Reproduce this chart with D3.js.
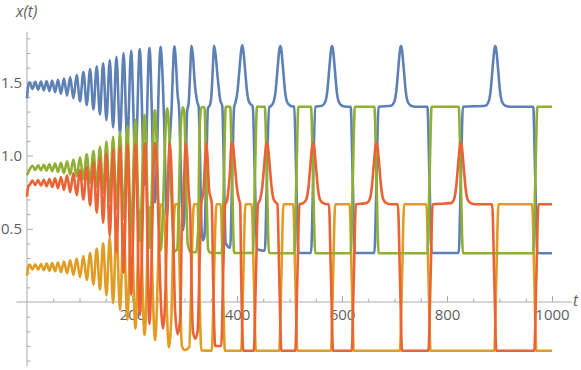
<!DOCTYPE html>
<html>
<head>
<meta charset="utf-8">
<script src="https://cdn.jsdelivr.net/npm/d3@7"></script>
<style>
  body { margin: 0; background: #fff; }
  svg { display: block; }
  text { font-family: "Open Sans", "DejaVu Sans", sans-serif; }
</style>
</head>
<body>
<svg width="581" height="370"></svg>
<script>
// turning points [t, x], one list per component
const blue = [
  [0,1.39],[2.5,1.48],[5,1.5],[10.4,1.455],[15.8,1.503],[21.2,1.45],[26.6,1.505],[32,1.445],[37.3,1.508],[42.7,1.44],
  [48,1.512],[53.5,1.432],[59,1.517],[64.7,1.422],[70.4,1.525],[76.3,1.408],[82.2,1.535],[88.4,1.39],[94.6,1.55],[101,1.37],
  [107.4,1.57],[113.8,1.345],[120.2,1.59],[126.5,1.315],[132.8,1.61],[138.9,1.28],[145,1.63],[151.3,1.242],[157.6,1.652],[164,1.192],
  [170.4,1.674],[177.2,1.14],[183.9,1.70],[191.1,1.083],[198.3,1.715],[206.5,0.95],[214.8,1.727],[224,0.8],[233.2,1.736],[243.5,0.68],
  [254.5,1.743],[257.5,1.6],[261,1.25],[266.5,0.58],[272,1.1],[275.5,1.33],[278,1.58],[280.6,1.745],
  [283.6,1.64],[286.6,1.43],[290,1.3],[293,0.9],[297.5,0.49],[302,0.85],[305,1.3],[308,1.36],[310.6,1.55],[313.4,1.75],
  [316.4,1.67],[319.4,1.5],[324,1.37],[327,1.33],[329.5,1.0],[332.5,0.5],[335,0.42],[338,0.45],[341.5,0.9],[344.5,1.32],
  [349,1.35],[352,1.45],[354,1.6],[356.5,1.75],
  [359.5,1.68],[362.5,1.56],[368,1.38],[372,1.335],[375,0.9],[378.5,0.4],[387,0.37],[390.8,0.85],[394.5,1.33],[397,1.36],
  [401,1.44],[404,1.56],[406,1.645],[408,1.72],[410,1.752],
  [412,1.72],[414,1.645],[416,1.56],[419,1.44],[423,1.365],[430,1.335],[434,0.85],[438,0.36],[453,0.35],[457,0.85],
  [461,1.333],[463.5,1.335],[469.5,1.365],[473.5,1.44],[476.5,1.56],[478.5,1.645],[480.5,1.72],[482.5,1.747],
  [484.5,1.72],[486.5,1.645],[488.5,1.56],[491.5,1.44],[495.5,1.365],[501.5,1.34],[509,1.333],[513,0.83],[517,0.335],[541,0.335],
  [545,0.83],[549,1.333],[562,1.34],[568,1.365],[572,1.44],[575,1.56],[577,1.645],[579,1.72],[581,1.747],
  [583,1.72],[585,1.645],[587,1.56],[590,1.44],[594,1.365],[600,1.34],[609,1.333],[616.5,1.333],[620.5,0.83],[624.5,0.335],
  [661.7,0.335],[665.7,0.83],[669.7,1.333],[693.4,1.34],[699.4,1.365],[703.4,1.44],[706.4,1.56],[708.4,1.645],[710.4,1.72],[712.4,1.747],
  [714.4,1.72],[716.4,1.645],[718.4,1.56],[721.4,1.44],[725.4,1.365],[731.4,1.34],[740.4,1.333],[762.7,1.333],[766.7,0.83],[770.7,0.335],
  [822.3,0.335],[826.3,0.83],[830.3,1.333],[873,1.34],[879,1.365],[883,1.44],[886,1.56],[888,1.645],[890,1.72],[892,1.747],
  [894,1.72],[896,1.645],[898,1.56],[901,1.44],[905,1.365],[911,1.34],[920,1.333],[964.2,1.333],[968.2,0.83],[972.2,0.335],
  [1000,0.333]
];

const orange = [
  [0,0.18],[2.5,0.24],[5,0.255],[10.4,0.222],[15.8,0.257],[21.2,0.221],[26.6,0.259],[32,0.218],[37.3,0.262],[42.7,0.214],
  [48,0.266],[53.5,0.21],[59,0.27],[64.7,0.204],[70.4,0.277],[76.3,0.196],[82.2,0.285],[88.4,0.185],[94.6,0.297],[101,0.17],
  [107.4,0.313],[113.8,0.15],[120.2,0.335],[126.5,0.12],[132.8,0.365],[138.9,0.085],[145,0.4],[151.3,0.045],[157.6,0.44],[164,-0.009],
  [170.4,0.485],[177.2,-0.055],[183.9,0.53],[191.1,-0.12],[198.3,0.58],[206.5,-0.18],[214.8,0.625],[224,-0.225],[233.2,0.65],[244,-0.26],
  [254.5,0.66],[258,0.667],[262,0.55],[266,0],[270,-0.31],[275,-0.1],[279,0.5],[282.6,0.667],[288,0.667],[291,0.17],
  [295,-0.3],[300,-0.328],[309,-0.31],[312,0],[315.4,0.5],[318,0.667],[325,0.667],[328,0.17],[332,-0.33],[352,-0.333],
  [355,0],[358.5,0.5],[361,0.667],[369,0.667],[373,0.17],[377,-0.333],[408,-0.333],[412,0.17],[416,0.667],[428,0.667],
  [432,0.17],[436,-0.333],[480.5,-0.333],[484.5,0.17],[488.5,0.667],[507,0.667],[511,0.17],[515,-0.333],[579,-0.333],[583,0.17],
  [587,0.667],[614.5,0.667],[618.5,0.17],[622.5,-0.333],[710.4,-0.333],[714.4,0.17],[718.4,0.667],[760.7,0.667],[764.7,0.17],[768.7,-0.333],
  [890,-0.333],[894,0.17],[898,0.667],[962.2,0.667],[966.2,0.17],[970.2,-0.333],[1000,-0.333]
];

const green = [
  [0,0.865],[5,0.905],[10.4,0.93],[15.8,0.902],[21.2,0.933],[26.6,0.9],[32,0.936],[37.3,0.897],[42.7,0.94],[48,0.893],
  [53.5,0.945],[59,0.888],[64.7,0.951],[70.4,0.88],[76.3,0.96],[82.2,0.87],[88.4,0.972],[94.6,0.856],[101,0.988],[107.4,0.838],
  [113.8,1.008],[120.2,0.815],[126.5,1.03],[132.8,0.785],[138.9,1.06],[145,0.745],[151.3,1.095],[157.6,0.695],[164,1.128],[170.4,0.635],
  [177.2,1.162],[183.9,0.565],[191.1,1.197],[198.3,0.49],[206.5,1.242],[214.8,0.42],[224,1.276],[233.2,0.37],[243.5,1.31],[254.5,0.35],
  [267,1.322],[281,0.345],[286,0.36],[293,1.2],[296.5,1.33],[299.5,1.3],[303,0.8],[306,0.4],[312,0.34],[322,0.34],
  [326,0.5],[329,1.2],[332,1.33],[338,1.33],[341.5,0.85],[345,0.36],[350,0.335],[371,0.335],[375,0.83],[378.5,1.333],
  [387,1.333],[390.8,0.83],[394.5,0.335],[430,0.335],[434,0.83],[438,1.333],[453,1.333],[457,0.83],[461,0.335],[509,0.333],
  [513,0.83],[517,1.333],[541,1.333],[545,0.83],[549,0.333],[616.5,0.333],[620.5,0.83],[624.5,1.333],[661.7,1.333],[665.7,0.83],
  [669.7,0.333],[762.7,0.333],[766.7,0.83],[770.7,1.333],[822.3,1.333],[826.3,0.83],[830.3,0.333],[964.2,0.333],[968.2,0.83],[972.2,1.333],
  [1000,1.333]
];

const red = [
  [0,0.72],[2.5,0.79],[5,0.8],[10.4,0.83],[15.8,0.798],[21.2,0.832],[26.6,0.795],[32,0.835],[37.3,0.79],[42.7,0.839],
  [48,0.785],[53.5,0.845],[59,0.777],[64.7,0.853],[70.4,0.765],[76.3,0.865],[82.2,0.75],[88.4,0.88],[94.6,0.73],[101,0.9],
  [107.4,0.7],[113.8,0.925],[120.2,0.66],[126.5,0.955],[132.8,0.61],[138.9,0.985],[145,0.54],[151.3,1.015],[157.6,0.45],[164,1.04],
  [170.4,0.34],[177.2,1.06],[183.9,0.2],[191.5,1.075],[198.3,0.05],[207,1.082],[214.8,-0.09],[225,1.085],[233.2,-0.15],[243.5,1.087],
  [246.5,1.0],[250,0.6],[253,0.2],[259,-0.18],[264,0.1],[267,0.6],[270,0.98],[272,1.087],[274,1.0],[277,0.68],
  [279,0.4],[282,-0.05],[287,-0.22],[292,-0.1],[295,0.55],[298,0.72],[300.5,0.97],[302.8,1.087],[305,1.0],[308,0.75],
  [311,0.6],[313,0.2],[316,-0.2],[320.5,-0.25],[325,-0.2],[329,0.3],[332,0.67],[336,0.75],[339,0.95],[341.5,1.087],
  [344,0.98],[347,0.76],[352,0.67],[354.5,0.17],[358.5,-0.3],[370,-0.3],[373.5,0.17],[377.5,0.667],[381,0.69],[384,0.78],
  [386.8,0.9],[388.8,1.06],[390.8,1.087],[392.8,1.06],[394.8,0.985],[396.8,0.9],[399.8,0.78],[403.8,0.7],[406,0.668],[408,0.17],
  [412,-0.333],[432,-0.333],[436,0.17],[440,0.667],[444,0.7],[448,0.78],[451,0.9],[453,0.985],[455,1.06],[457,1.087],
  [459,1.06],[461,0.985],[463,0.9],[466,0.78],[470,0.7],[474,0.68],[477,0.667],[480.5,0.17],[484.5,-0.333],[511,-0.333],
  [515,0.17],[519,0.667],[526,0.675],[532,0.7],[536,0.78],[539,0.9],[541,0.985],[543,1.06],[545,1.087],[547,1.06],
  [549,0.985],[551,0.9],[554,0.78],[558,0.7],[564,0.675],[573,0.667],[575,0.667],[579,0.17],[583,-0.333],[618.5,-0.333],
  [622.5,0.17],[626.5,0.667],[646.7,0.675],[652.7,0.7],[656.7,0.78],[659.7,0.9],[661.7,0.985],[663.7,1.06],[665.7,1.087],[667.7,1.06],
  [669.7,0.985],[671.7,0.9],[674.7,0.78],[678.7,0.7],[684.7,0.675],[693.7,0.667],[706.4,0.667],[710.4,0.17],[714.4,-0.333],[764.7,-0.333],
  [768.7,0.17],[772.7,0.667],[807.3,0.675],[813.3,0.7],[817.3,0.78],[820.3,0.9],[822.3,0.985],[824.3,1.06],[826.3,1.087],[828.3,1.06],
  [830.3,0.985],[832.3,0.9],[835.3,0.78],[839.3,0.7],[845.3,0.675],[854.3,0.667],[886,0.667],[890,0.17],[894,-0.333],[966.2,-0.333],
  [970.2,0.17],[974.2,0.667],[1000,0.667]
];

const xMajor = [200, 400, 600, 800, 1000];
const xMinor = [50, 100, 150, 250, 300, 350, 450, 500, 550, 650, 700, 750, 850, 900, 950];
const yMajor = [0.5, 1.0, 1.5];
const yMinor = [-0.4, -0.3, -0.2, -0.1, 0.1, 0.2, 0.3, 0.4, 0.6, 0.7, 0.8, 0.9, 1.1, 1.2, 1.3, 1.4, 1.6, 1.7, 1.8];

const svg = d3.select("svg");
const x = d3.scaleLinear().domain([0, 1000]).range([27, 552]);
const y = d3.scaleLinear().domain([0, 1.5]).range([302, 82.3]);

const axisColor = "#ababab";
const labelColor = "#5f5f5f";

// axis lines, a bit longer than the data range like Mathematica
svg.append("line")
    .attr("x1", x(-20)).attr("x2", x(1038))
    .attr("y1", y(0)).attr("y2", y(0))
    .attr("stroke", axisColor);
svg.append("line")
    .attr("x1", x(0)).attr("x2", x(0))
    .attr("y1", y(-0.44)).attr("y2", y(1.845))
    .attr("stroke", axisColor);

function styleAxis(g) {
    g.select(".domain").remove();
    g.selectAll(".tick line").attr("stroke", axisColor);
    g.selectAll(".tick text")
        .attr("fill", labelColor)
        .style("font-size", "15px");
}

svg.append("g")
    .attr("transform", `translate(0,${y(0)})`)
    .call(d3.axisBottom(x).tickValues(xMinor).tickSize(-3.5).tickFormat(""))
    .call(styleAxis);
svg.append("g")
    .attr("transform", `translate(0,${y(0)})`)
    .call(d3.axisBottom(x).tickValues(xMajor).tickSize(-6).tickPadding(7).tickFormat(d3.format("d")))
    .call(styleAxis);

svg.append("g")
    .attr("transform", `translate(${x(0)},0)`)
    .call(d3.axisLeft(y).tickValues(yMinor).tickSize(-3.5).tickFormat(""))
    .call(styleAxis);
svg.append("g")
    .attr("transform", `translate(${x(0)},0)`)
    .call(d3.axisLeft(y).tickValues(yMajor).tickSize(-6).tickPadding(5).tickFormat(d3.format(".1f")))
    .call(styleAxis);

// axis names
svg.append("text")
    .attr("x", 16).attr("y", 17)
    .attr("fill", labelColor)
    .style("font-size", "15.5px").style("font-style", "italic")
    .text("x(t)");
svg.append("text")
    .attr("x", 573).attr("y", 306)
    .attr("fill", labelColor)
    .style("font-size", "15.5px").style("font-style", "italic")
    .text("t");

const line = d3.line()
    .x(d => x(d[0]))
    .y(d => y(d[1]))
    .curve(d3.curveMonotoneX);

const series = [
    {data: blue, color: "#5e81b5"},
    {data: orange, color: "#e19c24"},
    {data: green, color: "#8fb032"},
    {data: red, color: "#eb6235"}
];

svg.append("g").selectAll("path")
    .data(series)
    .enter()
    .append("path")
    .attr("d", d => line(d.data))
    .attr("fill", "none")
    .attr("stroke", d => d.color)
    .attr("stroke-width", 2.6)
    .attr("stroke-linejoin", "round");
</script>
</body>
</html>
